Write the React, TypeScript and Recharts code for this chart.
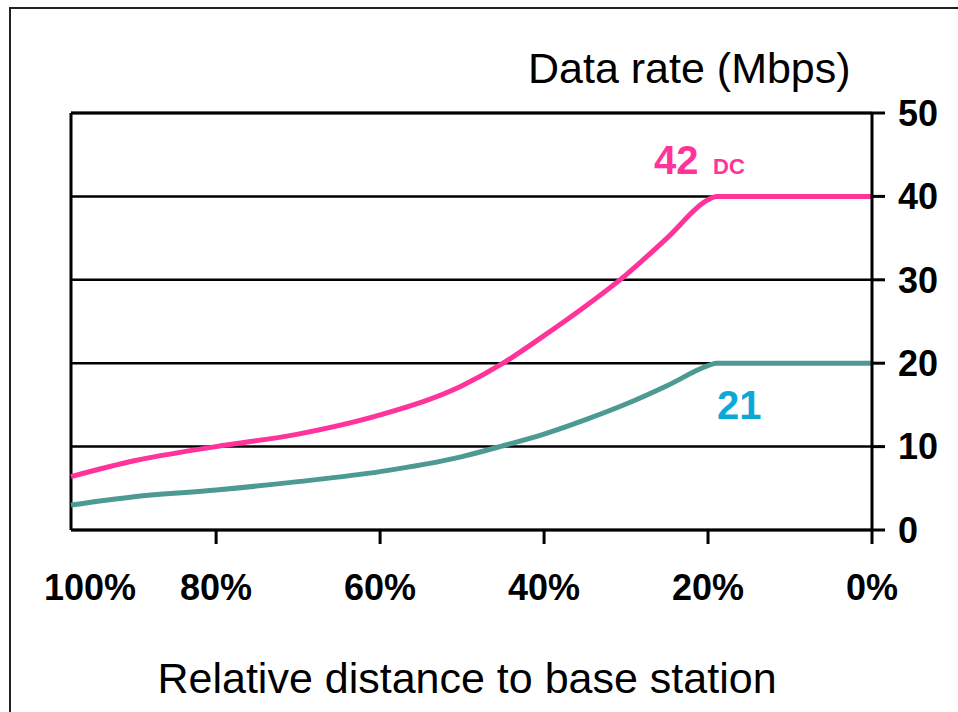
import React from 'react';
import {
  LineChart,
  Line,
  XAxis,
  YAxis,
  CartesianGrid,
  ReferenceLine,
} from 'recharts';

// Relative distance to base station (%), left edge of the plot sits a bit inside 100%
const distancePct = [97.7, 90, 80, 70, 60, 50, 45, 40, 35, 30, 25, 20, 19, 10, 0];
// Data rate (Mbps) for 42 Mbps dual carrier and 21 Mbps single carrier
const dcRate = [6.4, 8.3, 10.0, 11.5, 13.8, 17.3, 20.0, 23.3, 26.8, 30.6, 35.0, 39.6, 40, 40, 40];
const scRate = [3.0, 4.0, 4.8, 5.8, 7.0, 8.8, 10.1, 11.5, 13.2, 15.1, 17.3, 19.7, 20, 20, 20];

const xTicks = [97.7, 80, 60, 40, 20, 0];
const xTickLabels: Record<number, string> = {
  97.7: '100%',
  80: '80%',
  60: '60%',
  40: '40%',
  20: '20%',
  0: '0%',
};
const yTicks = [0, 10, 20, 30, 40, 50];

const data = distancePct.map((d, i) => ({ d, dc: dcRate[i], sc: scRate[i] }));

const FONT = '"Liberation Sans", Arial, sans-serif';

/**
 * Bottom tick: draws its own tick mark (none at the left frame edge)
 */
function DistanceTick(props: any) {
  const { x, y, payload } = props;
  const isEdge = payload.value === 97.7;
  return (
    <g>
      {!isEdge && (
        <line x1={x} y1={y} x2={x} y2={y + 14} stroke="#000" strokeWidth={3} />
      )}
      <text
        x={isEdge ? x + 19 : x}
        y={y + 70}
        textAnchor="middle"
        fontFamily={FONT}
        fontWeight="bold"
        fontSize={36}
        fill="#000"
      >
        {xTickLabels[payload.value]}
      </text>
    </g>
  );
}

export default function App() {
  return (
    <div style={styles.page}>
      <div style={styles.frame} />
      <LineChart
        width={958}
        height={712}
        data={data}
        margin={{ top: 113, right: 6, left: 71, bottom: 102 }}
      >
        <CartesianGrid
          horizontal
          vertical={false}
          stroke="#000"
          strokeWidth={2.5}
        />
        <XAxis
          dataKey="d"
          type="number"
          domain={[0, 97.7]}
          reversed
          ticks={xTicks}
          interval={0}
          height={80}
          axisLine={{ stroke: '#000', strokeWidth: 3 }}
          tickLine={false}
          tickSize={0}
          tickMargin={0}
          tick={<DistanceTick />}
        />
        <YAxis
          orientation="right"
          type="number"
          domain={[0, 50]}
          ticks={yTicks}
          interval={0}
          width={80}
          axisLine={{ stroke: '#000', strokeWidth: 3 }}
          tickLine={{ stroke: '#000', strokeWidth: 3 }}
          tickSize={13}
          tickMargin={13}
          tick={{ fontFamily: FONT, fontWeight: 'bold', fontSize: 36, fill: '#000' }}
        />
        <ReferenceLine x={97.7} stroke="#000" strokeWidth={3} />
        <ReferenceLine y={50} stroke="#000" strokeWidth={3} />
        <Line
          type="monotone"
          dataKey="dc"
          stroke="#ff3399"
          strokeWidth={5}
          dot={false}
          isAnimationActive={false}
        />
        <Line
          type="monotone"
          dataKey="sc"
          stroke="#4d9a93"
          strokeWidth={5}
          dot={false}
          isAnimationActive={false}
        />
      </LineChart>

      <svg style={styles.overlay} width={958} height={712}>
        <text x={528} y={83} fontFamily={FONT} fontSize={43} fill="#000">
          Data rate (Mbps)
        </text>
        <text x={467} y={693} textAnchor="middle" fontFamily={FONT} fontSize={43} fill="#000">
          Relative distance to base station
        </text>
        <text x={654} y={174} fontFamily={FONT} fontWeight="bold" fontSize={40} fill="#ff3399">
          42
        </text>
        <text x={713} y={174} fontFamily={FONT} fontWeight="bold" fontSize={22} fill="#ff3399">
          DC
        </text>
        <text x={717} y={419} fontFamily={FONT} fontWeight="bold" fontSize={40} fill="#0aa9d6">
          21
        </text>
      </svg>
    </div>
  );
}

const styles: Record<string, React.CSSProperties> = {
  page: {
    position: 'absolute',
    left: 0,
    top: 0,
    width: '958px',
    height: '712px',
    backgroundColor: '#ffffff',
    overflow: 'hidden',
  },

  frame: {
    position: 'absolute',
    left: '9px',
    top: '7px',
    right: 0,
    bottom: 0,
    borderTop: '2px solid #222',
    borderLeft: '2px solid #222',
  },

  overlay: {
    position: 'absolute',
    left: 0,
    top: 0,
    pointerEvents: 'none',
  },
};
